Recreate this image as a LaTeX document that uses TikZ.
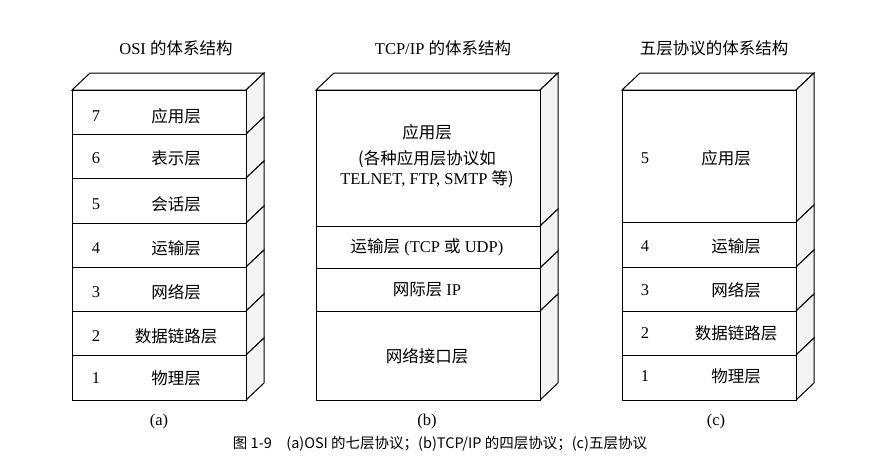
\documentclass[tikz,border=0pt]{standalone}
\usepackage{fontspec}
\setmainfont{Liberation Serif}
\newfontfamily\cjk{Noto Sans CJK SC}
\newcommand{\zh}[1]{{\cjk #1}}
\begin{document}
\begin{tikzpicture}[x=1pt,y=-1pt,
  lay/.style={draw,line width=1pt,fill=white},
  sidef/.style={draw,line width=1pt,fill=gray!9},
  txt/.style={font=\fontsize{16.5}{20}\selectfont,align=center},
  ttl/.style={font=\fontsize{16.5}{20}\selectfont},
  captxt/.style={font=\fontsize{14.5}{17}\selectfont}]
\useasboundingbox (0,0) rectangle (877,475);
\def\dx{18}\def\dy{-17}
\newcommand{\layer}[4]{%
  \draw[sidef] (#2,#3) -- (#2+\dx,#3+\dy) -- (#2+\dx,#4+\dy) -- (#2,#4) -- cycle;
  \draw[lay] (#1,#3) rectangle (#2,#4);}
\newcommand{\topf}[3]{%
  \draw[lay] (#1,#3) -- (#1+\dx,#3+\dy) -- (#2+\dx,#3+\dy) -- (#2,#3) -- cycle;}
% (a)
\topf{72}{246}{90}
\foreach \a/\b in {90/134,134/178,178/223,223/267,267/311,311/355,355/400}{\layer{72}{246}{\a}{\b}}
% (b)
\topf{316}{540}{90}
\layer{316}{540}{90}{226}\layer{316}{540}{226}{268}\layer{316}{540}{268}{311}\layer{316}{540}{311}{400}
% (c)
\topf{622}{796}{90}
\layer{622}{796}{90}{222}\layer{622}{796}{222}{267}\layer{622}{796}{267}{311}\layer{622}{796}{311}{355}\layer{622}{796}{355}{400}
% titles
\node[ttl] (ta) at (176,48) {OSI \zh{的体系结构}};
\node[ttl] (tb) at (443,48) {TCP/IP \zh{的体系结构}};
\node[ttl] (tc) at (714,48) {\zh{五层协议的体系结构}};
% (a) labels
\foreach \n/\t/\y in {7/应用层/116,6/表示层/158,5/会话层/204,4/运输层/248,3/网络层/292,2/数据链路层/336,1/物理层/378}{
  \node[txt] (an\n) at (96,\y) {\n};
  \node[txt] (al\n) at (176,\y) {\zh{\t}};}
% (b) labels
\node[txt] (b4) at (427,156) {\zh{应用层}\\[6pt] \zh{(各种应用层协议如}\\ TELNET, FTP, SMTP \zh{等)}};
\node[txt] (b3) at (427,247) {\zh{运输层} (TCP \zh{或} UDP)};
\node[txt] (b2) at (427,290) {\zh{网际层} IP};
\node[txt] (b1) at (427,356) {\zh{网络接口层}};
% (c) labels
\node[txt] (cn5) at (645,158) {5}; \node[txt] (cl5) at (726,158) {\zh{应用层}};
\foreach \n/\t/\y in {4/运输层/246,3/网络层/290,2/数据链路层/333,1/物理层/376}{
  \node[txt] (cn\n) at (645,\y) {\n};
  \node[txt] (cl\n) at (736,\y) {\zh{\t}};}
\node[txt] (la) at (159,422) {(a)};
\node[txt] (lb) at (427,422) {(b)};
\node[txt] (lc) at (716,422) {(c)};
\node[captxt] (capt) at (440,444) {\zh{图 1-9\quad (a)OSI 的七层协议；(b)TCP/IP 的四层协议；(c)五层协议}};
\end{tikzpicture}
\end{document}
